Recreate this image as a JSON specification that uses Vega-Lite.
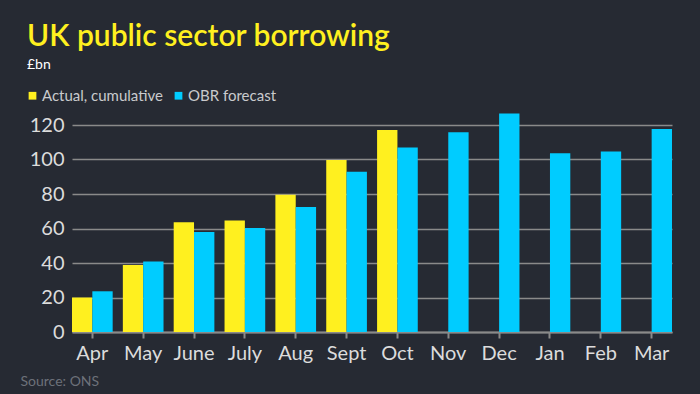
{
  "$schema": "https://vega.github.io/schema/vega-lite/v6.json",
  "width": 600,
  "height": 207,
  "autosize": "none",
  "padding": {"left": 72, "top": 125, "right": 28, "bottom": 62},
  "background": "#262a33",
  "title": {
    "text": "UK public sector borrowing",
    "subtitle": "£bn",
    "anchor": "start",
    "frame": "group",
    "dx": -45,
    "offset": 16,
    "font": "Lato",
    "fontSize": 30,
    "fontWeight": 600,
    "color": "#fff01f",
    "subtitleFont": "Lato",
    "subtitleFontSize": 14,
    "subtitleColor": "#ffffff",
    "subtitlePadding": 6
  },
  "data": {
    "values": [
      {"month": "Apr", "series": "Actual, cumulative", "value": 20},
      {"month": "Apr", "series": "OBR forecast", "value": 23.6},
      {"month": "May", "series": "Actual, cumulative", "value": 38.8},
      {"month": "May", "series": "OBR forecast", "value": 40.8},
      {"month": "June", "series": "Actual, cumulative", "value": 63.6},
      {"month": "June", "series": "OBR forecast", "value": 58},
      {"month": "July", "series": "Actual, cumulative", "value": 64.7},
      {"month": "July", "series": "OBR forecast", "value": 60.3},
      {"month": "Aug", "series": "Actual, cumulative", "value": 79.6},
      {"month": "Aug", "series": "OBR forecast", "value": 72.5},
      {"month": "Sept", "series": "Actual, cumulative", "value": 99.7},
      {"month": "Sept", "series": "OBR forecast", "value": 92.9},
      {"month": "Oct", "series": "Actual, cumulative", "value": 117.1},
      {"month": "Oct", "series": "OBR forecast", "value": 107},
      {"month": "Nov", "series": "OBR forecast", "value": 115.8},
      {"month": "Dec", "series": "OBR forecast", "value": 126.6},
      {"month": "Jan", "series": "OBR forecast", "value": 103.6},
      {"month": "Feb", "series": "OBR forecast", "value": 104.7},
      {"month": "Mar", "series": "OBR forecast", "value": 117.7}
    ]
  },
  "mark": {"type": "bar"},
  "encoding": {
    "x": {
      "field": "month",
      "type": "nominal",
      "sort": ["Apr", "May", "June", "July", "Aug", "Sept", "Oct", "Nov", "Dec", "Jan", "Feb", "Mar"],
      "scale": {"paddingInner": 0.2, "paddingOuter": 0},
      "axis": {
        "title": "Source: ONS",
        "titleFont": "Lato",
        "titleFontSize": 14,
        "titleFontWeight": "normal",
        "titleColor": "#6d717a",
        "titleAnchor": "start",
        "titleAlign": "left",
        "titleBaseline": "alphabetic",
        "titleX": -52,
        "titleY": 53,
        "labelAngle": 0,
        "labelFont": "Lato",
        "labelFontSize": 20,
        "labelColor": "#dcdcdc",
        "labelPadding": 5,
        "domainColor": "#8a8a8a",
        "domainWidth": 2,
        "tickColor": "#8a8a8a",
        "tickWidth": 2,
        "tickSize": 6,
        "grid": false
      }
    },
    "xOffset": {
      "field": "series",
      "type": "nominal",
      "scale": {"domain": ["Actual, cumulative", "OBR forecast"], "paddingInner": 0, "paddingOuter": 0}
    },
    "y": {
      "field": "value",
      "type": "quantitative",
      "scale": {"domain": [0, 120], "nice": false, "clamp": false},
      "axis": {
        "title": null,
        "values": [0, 20, 40, 60, 80, 100, 120],
        "labelFont": "Lato",
        "labelFontSize": 20,
        "labelColor": "#dcdcdc",
        "labelPadding": 8,
        "ticks": false,
        "domain": false,
        "gridColor": "#8a8a8a",
        "gridWidth": 1.5
      }
    },
    "color": {
      "field": "series",
      "type": "nominal",
      "scale": {"domain": ["Actual, cumulative", "OBR forecast"], "range": ["#fff01f", "#00ccff"]},
      "legend": {
        "title": null,
        "orient": "none",
        "direction": "horizontal",
        "legendX": -47,
        "legendY": -37,
        "symbolType": "square",
        "symbolSize": 60,
        "symbolStrokeWidth": 0,
        "symbolOpacity": 1,
        "labelFont": "Lato",
        "labelFontSize": 15,
        "labelColor": "#c9cacd",
        "labelOffset": 2,
        "columnPadding": 8
      }
    }
  },
  "config": {"view": {"stroke": null}}
}
